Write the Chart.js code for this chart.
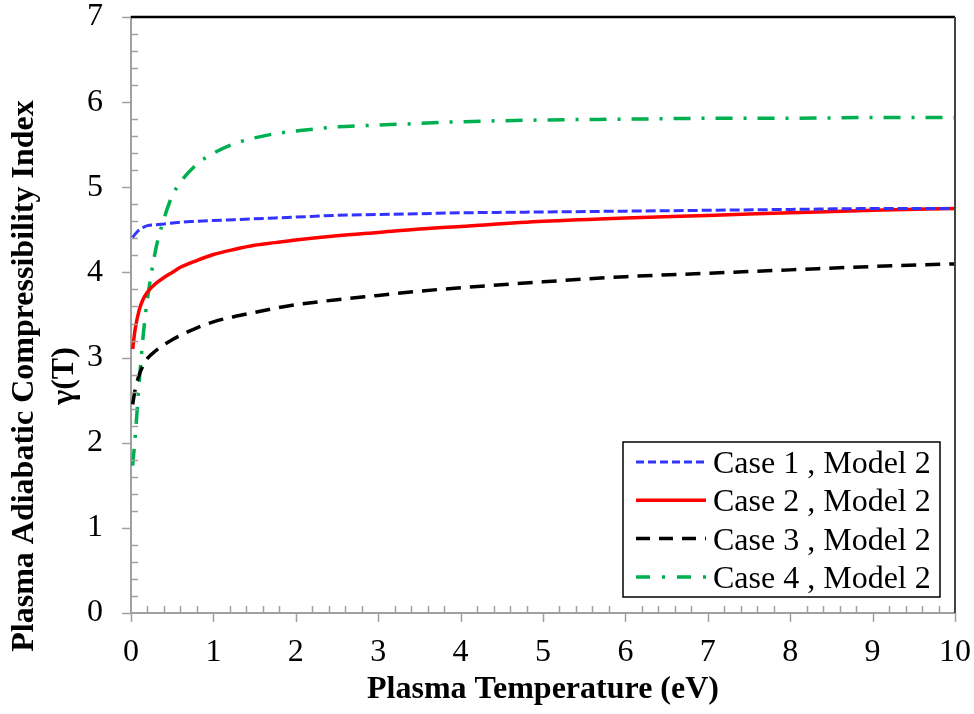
<!DOCTYPE html>
<html>
<head>
<meta charset="utf-8">
<script src="https://cdn.jsdelivr.net/npm/chart.js@4.4.1/dist/chart.umd.min.js"></script>
<style>
  html, body { margin: 0; padding: 0; background: #fff; }
  canvas { display: block; }
</style>
</head>
<body>
<canvas id="chart" width="974" height="714"></canvas>
<script>
const temperature = [0.02, 0.05, 0.1, 0.15, 0.2, 0.3, 0.4, 0.5, 0.6, 0.8, 1.0, 1.25, 1.5, 1.75, 2, 2.5, 3, 3.5, 4, 5, 6, 7, 8, 9, 10]

const gammaCase1 = [4.41, 4.45, 4.50, 4.53, 4.55, 4.56, 4.57, 4.58, 4.59, 4.60, 4.61, 4.62, 4.63, 4.64, 4.65, 4.67, 4.68, 4.69, 4.70, 4.71, 4.72, 4.73, 4.74, 4.75, 4.75]
const gammaCase2 = [3.10, 3.33, 3.56, 3.69, 3.77, 3.87, 3.94, 4.00, 4.06, 4.14, 4.21, 4.27, 4.32, 4.35, 4.38, 4.43, 4.47, 4.51, 4.54, 4.60, 4.64, 4.67, 4.70, 4.73, 4.75]
const gammaCase3 = [2.45, 2.62, 2.80, 2.91, 2.99, 3.08, 3.15, 3.21, 3.26, 3.35, 3.42, 3.48, 3.53, 3.58, 3.62, 3.68, 3.73, 3.78, 3.82, 3.89, 3.95, 3.99, 4.03, 4.07, 4.10]
const gammaCase4 = [1.73, 2.06, 2.72, 3.28, 3.69, 4.27, 4.63, 4.90, 5.06, 5.27, 5.40, 5.51, 5.58, 5.63, 5.66, 5.71, 5.73, 5.75, 5.77, 5.79, 5.80, 5.81, 5.81, 5.82, 5.82]

const seriesLabels = ['Case 1 , Model 2', 'Case 2 , Model 2', 'Case 3 , Model 2', 'Case 4 , Model 2']

const SERIF = '"Liberation Serif", "Times New Roman", serif'

function pts(ys) {
  return temperature.map((t, i) => ({x: t, y: ys[i]}))
}

// ticks, frame, y title and the boxed legend
const decor = {
  id: 'decor',
  afterDraw(chart) {
    const {ctx, chartArea: a, scales: {x, y}} = chart
    ctx.save()

    // minor ticks inside, major ticks outside
    ctx.strokeStyle = '#a0a0a0'
    ctx.lineWidth = 1.5
    ctx.beginPath()
    for (let i = 0; i <= 50; i++) {
      const px = Math.round(x.getPixelForValue(i / 5)) + 0.5
      if (i % 5 === 0) {
        ctx.moveTo(px, a.bottom); ctx.lineTo(px, a.bottom + 9)
      } else {
        ctx.moveTo(px, a.bottom); ctx.lineTo(px, a.bottom - 7)
      }
    }
    for (let i = 0; i <= 35; i++) {
      const py = Math.round(y.getPixelForValue(i / 5)) + 0.5
      if (i % 5 === 0) {
        ctx.moveTo(a.left - 9, py); ctx.lineTo(a.left, py)
      } else {
        ctx.moveTo(a.left, py); ctx.lineTo(a.left + 7, py)
      }
    }
    ctx.stroke()

    // frame top / right
    ctx.strokeStyle = '#000'
    ctx.lineWidth = 2.5
    ctx.beginPath()
    ctx.moveTo(a.left, a.top); ctx.lineTo(a.right, a.top)
    ctx.stroke()
    ctx.strokeStyle = '#444'
    ctx.lineWidth = 2
    ctx.beginPath()
    ctx.moveTo(a.right, a.top); ctx.lineTo(a.right, a.bottom)
    ctx.stroke()

    // y axis title, two lines
    ctx.fillStyle = '#000'
    ctx.font = 'bold 32px ' + SERIF
    ctx.textAlign = 'center'
    ctx.textBaseline = 'alphabetic'
    ctx.save()
    ctx.translate(33, 376)
    ctx.rotate(-Math.PI / 2)
    ctx.fillText('Plasma Adiabatic Compressibility Index', 0, 0)
    ctx.restore()
    ctx.save()
    ctx.translate(73, 376)
    ctx.rotate(-Math.PI / 2)
    ctx.fillText('γ(T)', 0, 0)
    ctx.restore()

    // legend
    const bx = 623, by = 442, bw = 317, bh = 155
    ctx.fillStyle = '#fff'
    ctx.fillRect(bx, by, bw, bh)
    ctx.strokeStyle = '#000'
    ctx.lineWidth = 1.5
    ctx.strokeRect(bx, by, bw, bh)
    ctx.font = '32px ' + SERIF
    ctx.textAlign = 'left'
    chart.data.datasets.forEach((ds, i) => {
      const ry = 462 + i * 38.3
      ctx.strokeStyle = ds.borderColor
      ctx.lineWidth = ds.borderWidth
      ctx.setLineDash(ds.legendDash)
      ctx.beginPath()
      ctx.moveTo(636, ry); ctx.lineTo(706, ry)
      ctx.stroke()
      ctx.setLineDash([])
      ctx.fillStyle = '#000'
      ctx.fillText(ds.label, 713, ry + 11)
    })
    ctx.restore()
  }
}

new Chart(document.getElementById('chart').getContext('2d'), {
  type: 'line',
  data: {
    datasets: [
      {label: seriesLabels[0], data: pts(gammaCase1), borderColor: '#3333ff', borderWidth: 3, borderDash: [10, 4], legendDash: [8, 4]},
      {label: seriesLabels[1], data: pts(gammaCase2), borderColor: '#ff0000', borderWidth: 3.5, borderDash: [], legendDash: []},
      {label: seriesLabels[2], data: pts(gammaCase3), borderColor: '#000000', borderWidth: 3.5, borderDash: [15, 9], legendDash: [14, 9]},
      {label: seriesLabels[3], data: pts(gammaCase4), borderColor: '#00b050', borderWidth: 3.5, borderDash: [17, 11, 3, 11], legendDash: [14, 12, 3, 12]}
    ]
  },
  options: {
    responsive: false,
    animation: false,
    layout: {padding: {top: 17, right: 19, left: 0, bottom: 0}},
    elements: {
      point: {radius: 0},
      line: {cubicInterpolationMode: 'monotone', fill: false}
    },
    plugins: {
      legend: {display: false},
      tooltip: {enabled: false}
    },
    scales: {
      x: {
        type: 'linear',
        min: 0,
        max: 10,
        afterFit: s => { s.height = 101; s.paddingLeft = 0; s.paddingRight = 0 },
        grid: {display: false, drawTicks: false},
        border: {color: '#a0a0a0', width: 2},
        ticks: {stepSize: 1, color: '#000', padding: 20, font: {family: SERIF, size: 32}, maxRotation: 0},
        title: {
          display: true,
          text: 'Plasma Temperature (eV)',
          color: '#000',
          font: {family: SERIF, size: 32, weight: 'bold'},
          padding: {top: 0, bottom: 5}
        }
      },
      y: {
        min: 0,
        max: 7,
        afterFit: s => { s.width = 131; s.paddingTop = 0; s.paddingBottom = 0 },
        grid: {display: false, drawTicks: false},
        border: {color: '#a0a0a0', width: 2},
        ticks: {stepSize: 1, color: '#000', padding: 28, font: {family: SERIF, size: 32}}
      }
    }
  },
  plugins: [decor]
})
</script>
</body>
</html>
